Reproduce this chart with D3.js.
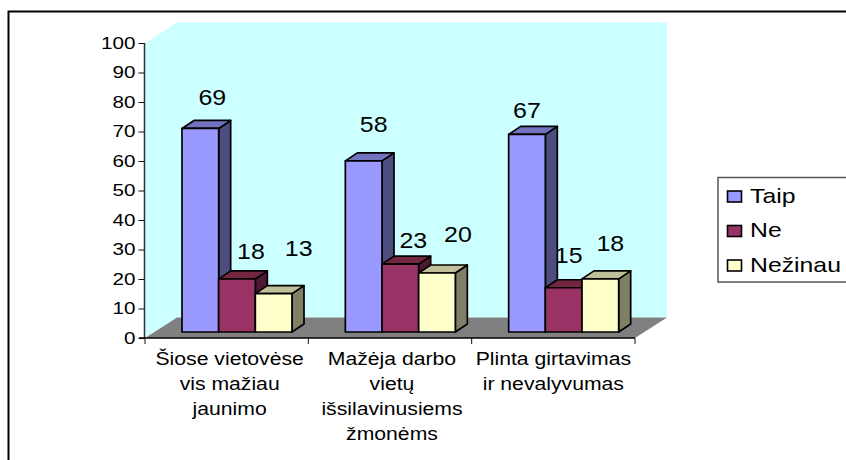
<!DOCTYPE html>
<html><head><meta charset="utf-8">
<script src="https://cdn.jsdelivr.net/npm/d3@7/dist/d3.min.js"></script>
<style>html,body{margin:0;padding:0;background:#fff}svg{display:block}text{font-family:"Liberation Sans",Arial,sans-serif;fill:#000}</style>
</head><body><div id="c"></div>
<script>
const categories=[["Šiose vietovėse","vis mažiau","jaunimo"],["Mažėja darbo","vietų","išsilavinusiems","žmonėms"],["Plinta girtavimas","ir nevalyvumas"]];
const categoryKeys=["a","b","c"];
const seriesNames=["Taip","Ne","Nežinau"];
const taip=[69,58,67];
const ne=[18,23,15];
const nezinau=[13,20,18];
const seriesValues=[taip,ne,nezinau];
const colors=["#9999FF","#993366","#FFFFCC"];
const sideColors=["#4D4D80","#4D1A33","#808066"];
const topColors=["#7373BF","#732640","#BFBF99"];
const yTicks=[0,10,20,30,40,50,60,70,80,90,100];

const W=846,H=460,x0=145,x1=635,y0=338,y1=43,dx=32,dy=-20.5,bdx=12,bdy=-8,baseLift=6;
// hand-placed data label offsets of the original: [series][category] -> [dx, gap above bar]
const labelDX=[[12,10,0],[14,13,5],[25,21,10]];
const labelGap=[[23,29,16],[20,16,25],[38,31,28]];
const svg=d3.select("#c").append("svg").attr("width",W).attr("height",H);
const x=d3.scaleBand().domain(categoryKeys).range([x0,x1]);
const xs=d3.scaleBand().domain(d3.range(3)).range([0,110]);
const y=d3.scaleLinear().domain([0,100]).range([y0,y1]);
const line=d3.line();
// the original text is wider than the font's natural width
const widen=(sel,k)=>sel.each(function(){const n=this.getComputedTextLength();d3.select(this).attr("textLength",n*k).attr("lengthAdjust","spacingAndGlyphs");});

svg.append("path").attr("d","M8.5,460V11.5H846").attr("fill","none").attr("stroke","#000").attr("stroke-width",2);
svg.append("path").attr("d",line([[x0,y(0)],[x0,y(100)],[x0+dx,y(100)+dy],[x1+dx,y(100)+dy],[x1+dx,y(0)+dy],[x0+dx,y(0)+dy]])+"Z").attr("fill","#CCFFFF");
svg.append("path").attr("d",line([[x0,y(0)],[x1,y(0)],[x1+dx,y(0)+dy],[x0+dx,y(0)+dy]])+"Z").attr("fill","#808080");
const ax=svg.append("g").attr("transform",`translate(${x0-.5},0)`).call(d3.axisLeft(y).tickValues(yTicks).tickSize(6).tickPadding(3).tickFormat(d3.format("d")));
ax.select(".domain").attr("stroke","#333").attr("stroke-width",1.5).attr("d",`M0,${y1}V${y0}`);
ax.selectAll("line").attr("stroke","#111");
ax.selectAll("text").attr("font-size",16.5).attr("font-family",'"Liberation Sans"').attr("fill","#000").call(widen,1.25);
const bx=svg.append("g").attr("transform",`translate(0,${y0})`);
bx.append("line").attr("x1",x0-6).attr("x2",x1).attr("stroke","#000").attr("stroke-width",1.5);
[...categoryKeys.map(k=>x(k)),x1].forEach(t=>bx.append("line").attr("x1",t).attr("x2",t).attr("y2",6).attr("stroke","#111"));
const catShift=[3,2,0];
categories.forEach((ls,i)=>{
  ls.forEach((s,j)=>svg.append("text").attr("x",x(categoryKeys[i])+x.bandwidth()/2+catShift[i]).attr("y",365+j*25).attr("text-anchor","middle").attr("font-size",17.5).text(s).call(widen,1.21));
});
categoryKeys.forEach((k,i)=>{
  const gx=x(k)+37;
  [0,1,2].forEach(s=>{
    const v=seriesValues[s][i],l=gx+xs(s),r=l+xs.bandwidth(),t=y(v)-baseLift,b=y(0)-baseLift;
    const g=svg.append("g").attr("stroke","#000").attr("stroke-width",1.7).attr("stroke-linejoin","round");
    g.append("path").attr("d",line([[r,t],[r+bdx,t+bdy],[r+bdx,b+bdy],[r,b]])+"Z").attr("fill",sideColors[s]);
    g.append("path").attr("d",line([[l,t],[l+bdx,t+bdy],[r+bdx,t+bdy],[r,t]])+"Z").attr("fill",topColors[s]);
    g.append("rect").attr("x",l).attr("y",t).attr("width",r-l).attr("height",b-t).attr("fill",colors[s]);
  });
});
categoryKeys.forEach((k,i)=>{
  const gx=x(k)+37;
  seriesValues.forEach((vals,s)=>{
    const v=vals[i];
    svg.append("text").attr("x",gx+xs(s)+xs.bandwidth()/2+labelDX[s][i]).attr("y",y(v)-baseLift-labelGap[s][i]).attr("text-anchor","middle").attr("font-size",21.5).text(v).call(widen,1.16);
  });
});
svg.append("rect").attr("x",718).attr("y",177.5).attr("width",130).attr("height",104.5).attr("fill","#fff").attr("stroke","#555").attr("stroke-width",1.5);
seriesNames.forEach((n,i)=>{
  const ly=196.5+i*34.5;
  svg.append("rect").attr("x",727.5).attr("y",ly-5.5).attr("width",14).attr("height",11).attr("fill",colors[i]).attr("stroke","#000").attr("stroke-width",1.6);
  svg.append("text").attr("x",750).attr("y",ly+6).attr("font-size",21).text(n).call(widen,1.18);
});
</script></body></html>
